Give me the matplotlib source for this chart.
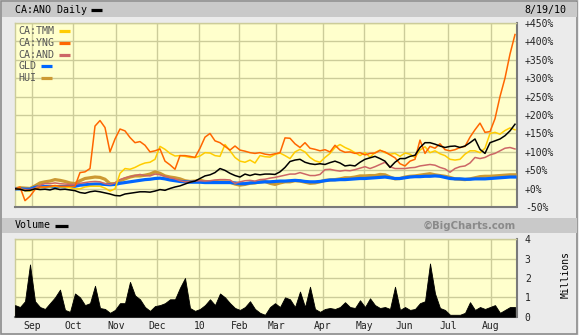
import matplotlib
matplotlib.use("Agg")
import matplotlib.pyplot as plt
import numpy as np
from matplotlib.lines import Line2D
from matplotlib.patches import Rectangle

W, H = 579, 335

# percent change, sampled every 2.5 trading days
ano = [0, -1, -5, -4, 0, -2, -1, -3, 1, -2, -1, -3, -5, -10, -12, -8, -6, -8, -11, -14,
       -18, -19, -14, -12, -10, -8, -8, -9, -6, -2, -4, 1, 5, 8, 13, 18, 21, 28, 35, 38,
       44, 55, 50, 42, 36, 32, 40, 36, 40, 38, 40, 40, 39, 46, 58, 74, 78, 80, 72, 68,
       66, 68, 66, 71, 75, 70, 62, 64, 62, 72, 80, 84, 88, 82, 75, 58, 72, 82, 82, 88,
       91, 112, 125, 125, 121, 116, 112, 115, 116, 112, 116, 125, 135, 107, 96, 125, 130, 135, 144, 157,
       175]
tmm = [0, 0, -5, -6, 0, 3, 5, 5, 7, 5, 5, 3, 0, 0, 5, 7, 7, 7, 2, -6,
       0, 42, 55, 53, 58, 65, 70, 72, 80, 115, 107, 96, 89, 90, 88, 85, 85, 89, 98, 97,
       90, 88, 120, 103, 85, 75, 72, 78, 70, 90, 87, 86, 93, 97, 90, 82, 100, 107, 100, 85,
       76, 72, 85, 96, 112, 120, 112, 106, 98, 90, 98, 86, 98, 105, 98, 94, 96, 88, 97, 94,
       85, 105, 114, 98, 103, 95, 90, 80, 78, 80, 94, 103, 103, 98, 110, 150, 153, 148, 158, 165,
       160]
yng = [0, 5, -32, -20, -2, 5, 5, 7, 9, 7, 7, 7, 7, 44, 46, 55, 170, 185, 166, 100,
       135, 162, 157, 139, 125, 128, 118, 100, 103, 108, 75, 65, 53, 90, 90, 88, 85, 110, 140, 150,
       130, 125, 115, 105, 116, 105, 102, 98, 96, 98, 94, 92, 95, 98, 138, 137, 122, 112, 125, 110,
       107, 103, 106, 100, 118, 105, 99, 100, 96, 98, 92, 96, 97, 104, 100, 92, 84, 68, 62, 75,
       80, 132, 96, 115, 110, 122, 106, 103, 106, 112, 115, 140, 160, 178, 153, 155, 190, 250, 300, 365,
       418]
andr = [0, 0, -2, -2, 2, 10, 14, 14, 16, 14, 13, 12, 12, 15, 17, 19, 20, 19, 14, 12,
        16, 25, 30, 33, 36, 39, 36, 35, 40, 38, 34, 30, 27, 22, 19, 19, 21, 22, 21, 22,
        24, 25, 25, 24, 15, 19, 22, 23, 21, 25, 26, 29, 31, 34, 37, 40, 40, 44, 40, 36,
        36, 39, 52, 53, 50, 48, 50, 49, 52, 56, 60, 55, 60, 66, 72, 60, 55, 55, 55, 57,
        58, 62, 64, 66, 64, 58, 54, 45, 55, 60, 62, 70, 85, 82, 85, 92, 96, 103, 110, 112,
        108]
gld = [0, 0, -1, -1, 4, 6, 6, 6, 6, 6, 6, 7, 7, 10, 11, 12, 13, 13, 12, 11,
       12, 15, 17, 19, 21, 23, 25, 26, 28, 29, 27, 24, 22, 20, 19, 18, 18, 18, 17, 17,
       17, 17, 17, 17, 16, 14, 14, 16, 17, 18, 19, 19, 20, 21, 21, 22, 23, 22, 20, 19,
       19, 20, 22, 24, 24, 25, 25, 26, 27, 28, 28, 29, 30, 31, 32, 30, 28, 28, 30, 32,
       33, 33, 34, 34, 35, 34, 31, 28, 27, 27, 26, 26, 27, 27, 27, 28, 29, 30, 31, 32,
       32]
hui = [0, 3, 2, 1, 8, 16, 19, 21, 25, 23, 20, 16, 14, 22, 28, 30, 32, 31, 26, 14,
       14, 22, 27, 32, 35, 35, 37, 40, 46, 42, 35, 32, 30, 27, 22, 20, 21, 23, 20, 19,
       20, 19, 19, 18, 13, 10, 12, 15, 16, 19, 20, 15, 12, 16, 19, 19, 22, 21, 18, 15,
       16, 19, 23, 24, 25, 27, 30, 30, 32, 35, 35, 36, 36, 39, 38, 32, 27, 28, 32, 34,
       35, 37, 39, 41, 38, 36, 34, 31, 27, 26, 25, 27, 30, 33, 34, 34, 35, 36, 37, 38,
       38]
# volume, millions
volume = [0.6, 0.5, 0.8, 2.7, 0.8, 0.5, 0.4, 0.7, 1.0, 1.4, 0.35, 0.25, 1.2, 1.0, 0.6, 0.7, 1.6, 0.45, 0.4, 0.2,
          0.35, 0.7, 0.7, 1.8, 1.1, 0.9, 0.5, 0.3, 0.55, 0.6, 0.7, 0.9, 0.9, 1.5, 2.0, 0.45, 0.3, 0.4, 0.6, 0.9,
          0.6, 1.2, 1.0, 0.7, 0.45, 0.35, 0.5, 0.8, 0.4, 0.2, 0.1, 0.5, 0.7, 0.5, 1.0, 0.9, 0.5, 1.3, 0.5, 1.55,
          0.4, 0.25, 0.4, 0.45, 0.4, 0.5, 0.75, 0.5, 0.45, 0.85, 0.5, 0.95, 0.6, 0.45, 0.5, 0.4, 1.55, 0.35, 0.5, 0.35,
          0.4, 0.7, 0.8, 2.75, 1.2, 0.45, 0.35, 0.1, 0.1, 0.1, 0.2, 0.75, 0.35, 0.5, 0.4, 0.5, 0.6, 0.2, 0.35, 0.5,
          0.5]

month_labels = ['Sep', 'Oct', 'Nov', 'Dec', '10', 'Feb', 'Mar', 'Apr', 'May', 'Jun', 'Jul', 'Aug']
month_pos = [8.35, 29.15, 50.35, 71.15, 92.15, 112.25, 130.75, 154, 174.5, 194.75, 216.75, 238]
pct_ticks = [-50, 0, 50, 100, 150, 200, 250, 300, 350, 400, 450]
vol_ticks = [0, 1, 2, 3, 4]

day = np.arange(len(ano)) * 2.5

MONO = 'DejaVu Sans Mono'
BG = '#ebebeb'
BAR = '#c9c9c9'
PLOT_BG = '#ffffcc'
GRID = '#cccc99'


def fx(x):
    return x / W


def fy(y):
    return 1 - y / H


def swatch(fig, x0, x1, y, color):
    fig.add_artist(Line2D([fx(x0), fx(x1)], [fy(y), fy(y)], transform=fig.transFigure,
                          color=color, lw=2.3, solid_capstyle='butt'))


def style_axes(ax):
    ax.set_facecolor(PLOT_BG)
    ax.set_xlim(0, 250.75)
    ax.set_xticks(month_pos)
    ax.grid(True, color=GRID, lw=1.0)
    ax.set_axisbelow(True)
    ax.yaxis.tick_right()
    ax.tick_params(length=0, labelsize=7, colors='#222222', pad=6)
    for lab in ax.get_yticklabels() + ax.get_xticklabels():
        lab.set_family(MONO)
    for s in ['top', 'left']:
        ax.spines[s].set_color(GRID)
        ax.spines[s].set_linewidth(1.0)
    for s in ['bottom', 'right']:
        ax.spines[s].set_color('#7a7a7a')
        ax.spines[s].set_linewidth(1.5)


fig = plt.figure(figsize=(W / 100, H / 100), dpi=100, facecolor=BG)

# outer frame and header bars
fig.add_artist(Rectangle((fx(1), fy(333.5)), fx(576), 332.5 / H, transform=fig.transFigure,
                         facecolor='none', edgecolor='#8c8c8c', lw=1.2))
fig.add_artist(Rectangle((fx(2), fy(17)), fx(575), 15 / H, transform=fig.transFigure,
                         facecolor=BAR, edgecolor='none'))
fig.add_artist(Rectangle((fx(2), fy(232.7)), fx(575), 14.4 / H, transform=fig.transFigure,
                         facecolor=BAR, edgecolor='none'))

# price panel
ax = fig.add_axes([fx(15), fy(207.3), fx(501.5), 184.6 / H])
style_axes(ax)
ax.set_ylim(-50, 450)
ax.set_yticks(pct_ticks)
ax.set_yticklabels([('+%d%%' % v) if v >= 0 else ('%d%%' % v) for v in pct_ticks], ha='left')
ax.set_xticklabels([])
ax.plot(day, hui, color='#cc9933', lw=2.3, zorder=3)
ax.plot(day, gld, color='#0066ff', lw=2.3, zorder=3)
ax.plot(day, andr, color='#cc6666', lw=1.1, zorder=4)
ax.plot(day, tmm, color='#ffcc00', lw=1.1, zorder=4)
ax.plot(day, yng, color='#ff6600', lw=1.1, zorder=5)
ax.plot(day, ano, color='black', lw=1.1, zorder=6)

# legend in the price panel
legend = [('CA:TMM', '#ffcc00', 59, 70), ('CA:YNG', '#ff6600', 59, 70), ('CA:AND', '#cc6666', 59, 70),
          ('GLD', '#0066ff', 41, 51.7), ('HUI', '#cc9933', 41, 51.7)]
for i, (name, col, x0, x1) in enumerate(legend):
    y = 31 + i * 11.8
    fig.text(fx(18.5), fy(y), name, family=MONO, fontsize=7.2, color='#555555', va='center')
    swatch(fig, x0, x1, y, col)

# volume panel
vax = fig.add_axes([fx(15), fy(316.7), fx(501.5), 77.4 / H])
style_axes(vax)
vax.set_ylim(0, 4)
vax.set_yticks(vol_ticks)
vax.set_yticklabels([str(v) for v in vol_ticks], ha='left')
vax.set_xticklabels(month_labels)
vax.tick_params(axis='x', pad=3)
vax.fill_between(day, 0, volume, color='black', lw=0.6, zorder=3)

# header texts
fig.text(fx(15), fy(9.7), 'CA:ANO Daily', family=MONO, fontsize=7.2, va='center')
swatch(fig, 90.7, 102, 9.7, 'black')
fig.text(fx(524), fy(9.7), '8/19/10', family=MONO, fontsize=7.2, va='center')
fig.text(fx(15), fy(225.5), 'Volume', family=MONO, fontsize=7.2, va='center')
swatch(fig, 55, 67.7, 225.5, 'black')
fig.text(fx(516), fy(225.5), '\u00a9BigCharts.com', family='DejaVu Sans', fontweight='bold',
         fontsize=7.3, color='#8a8a8a', va='center', ha='right')
fig.text(fx(566), fy(275), 'Millions', family=MONO, fontsize=7, rotation=90,
         va='center', ha='center')

fig.savefig('out.png', dpi=100, facecolor=BG)
